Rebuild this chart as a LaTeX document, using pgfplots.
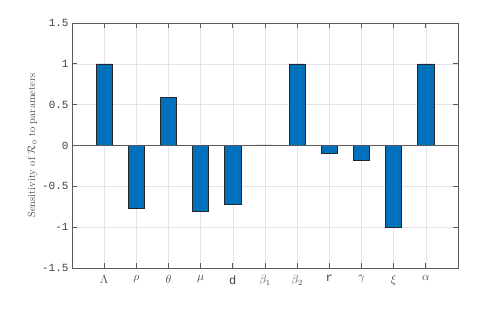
\documentclass[border=0pt]{standalone}
\usepackage{pgfplots}
\pgfplotsset{compat=1.18}
\usepackage{fontspec}
\newfontfamily\monofont{Liberation Mono}
\definecolor{mblue}{RGB}{0,114,189}
\definecolor{axgray}{RGB}{90,90,90}
\begin{document}
\begin{tikzpicture}
\path[use as bounding box] (-72bp,-46bp) rectangle (431bp,268bp);
\begin{axis}[
  at={(0,0)}, anchor=south west,
  scale only axis, width=386bp, height=245bp,
  xmin=0, xmax=12, ymin=-1.5, ymax=1.5,
  xtick={1,...,11},
  xticklabels={$\Lambda$,$\rho$,$\theta$,$\mu$,{\monofont d},$\beta_1$,$\beta_2$,{\monofont r},$\gamma$,$\xi$,$\alpha$},
  ytick={-1.5,-1,-0.5,0,0.5,1,1.5},
  yticklabels={-1.5,-1,-0.5,0,0.5,1,1.5},
  yticklabel style={font=\monofont\fontsize{11}{12}\selectfont, text=black!75},
  xticklabel style={font=\fontsize{12}{14}\selectfont, text=black!75, yshift=-4bp},
  tick align=inside,
  major tick length=5bp,
  tick style={axgray, line width=0.9pt},
  axis line style={axgray, line width=0.9pt},
  grid=major,
  major grid style={gray!22, line width=0.6pt},
  ylabel={Sensitivity of $\mathcal{R}_0$ to parameters},
  ylabel style={font=\fontsize{10.5}{12}\selectfont, text=black!70},
  ylabel shift=-2pt,
]
\addplot[ybar, bar width=0.5, fill=mblue, draw=black!85, line width=0.6pt] coordinates {
  (1,1) (2,-0.775) (3,0.59) (4,-0.80) (5,-0.725) (6,0.008) (7,1) (8,-0.09) (9,-0.18) (10,-1) (11,1)
};
\draw[axgray, line width=0.9pt] (axis cs:0,0) -- (axis cs:12,0);
\end{axis}
\end{tikzpicture}
\end{document}
